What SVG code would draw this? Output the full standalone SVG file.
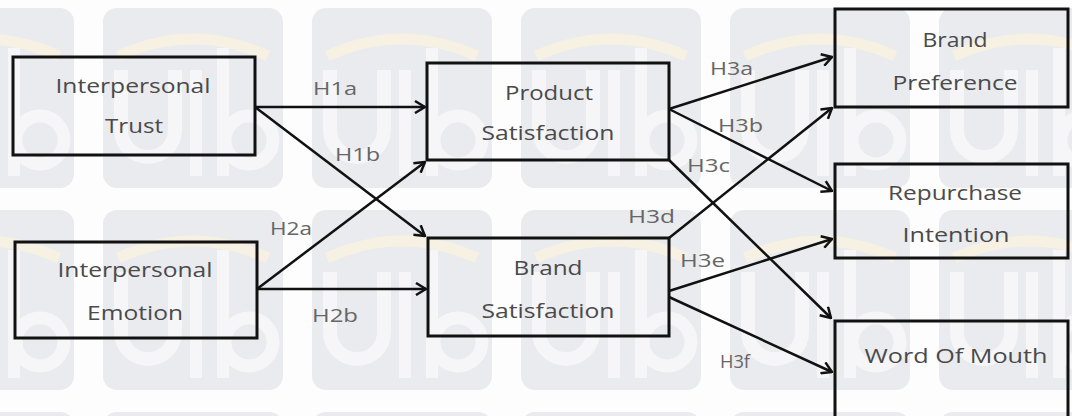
<svg xmlns="http://www.w3.org/2000/svg" width="1072" height="416" viewBox="0 0 1072 416">
  <defs>
    <pattern id="wm" patternUnits="userSpaceOnUse" x="103" y="8" width="209" height="202">
      <rect x="0" y="0" width="180" height="180" rx="14" fill="#eaebef"/>
      <path d="M15 48 Q90 14 165 48" fill="none" stroke="#f6f1e2" stroke-width="11"/>
      <path d="M18 62 V122 A27 27 0 0 0 72 122 V62" fill="none" stroke="#f6f6f8" stroke-width="14"/>
      <line x1="93" y1="62" x2="93" y2="168" stroke="#f6f6f8" stroke-width="12"/>
      <line x1="120" y1="40" x2="120" y2="168" stroke="#f6f6f8" stroke-width="12"/>
      <circle cx="146" cy="132" r="24" fill="none" stroke="#f6f6f8" stroke-width="13"/>
    </pattern>
    <marker id="arr" viewBox="0 0 12 14" refX="11" refY="7" markerWidth="12" markerHeight="14" markerUnits="userSpaceOnUse" orient="auto">
      <path d="M1,1 L11,7 L1,13" fill="none" stroke="#111" stroke-width="2.5"/>
    </marker>
    <style>
      .box { fill: none; stroke: #111; stroke-width: 3; }
      .t { font-family: "Open Sans", "Liberation Sans", sans-serif; font-size: 20px; fill: #4a4a4a; text-anchor: middle; }
      .lbl { font-family: "Open Sans", "Liberation Sans", sans-serif; font-size: 18px; fill: #666; }
      .edge { fill: none; stroke: #111; stroke-width: 2.5; marker-end: url(#arr); }
    </style>
  </defs>

  <rect x="0" y="0" width="1072" height="416" fill="#fdfdfd"/>
  <rect x="0" y="0" width="1072" height="416" fill="url(#wm)"/>

  <g id="connectors">
    <path class="edge" d="M255,107 L425,107"/>
    <path class="edge" d="M255,107 L425,236"/>
    <path class="edge" d="M257,289 L425,162"/>
    <path class="edge" d="M257,289 L426,289"/>
    <path class="edge" d="M669,109 L832,57"/>
    <path class="edge" d="M669,109 L832,191"/>
    <path class="edge" d="M669,160 L831,318"/>
    <path class="edge" d="M669,238 L832,108"/>
    <path class="edge" d="M669,291 L832,239"/>
    <path class="edge" d="M669,297 L832,372"/>
    <text class="lbl" x="313" y="95" textLength="44" lengthAdjust="spacingAndGlyphs">H1a</text>
    <text class="lbl" x="335" y="161" textLength="45" lengthAdjust="spacingAndGlyphs">H1b</text>
    <text class="lbl" x="270" y="235" textLength="42" lengthAdjust="spacingAndGlyphs">H2a</text>
    <text class="lbl" x="312" y="322" textLength="46" lengthAdjust="spacingAndGlyphs">H2b</text>
    <text class="lbl" x="710" y="75" textLength="43" lengthAdjust="spacingAndGlyphs">H3a</text>
    <text class="lbl" x="718" y="132" textLength="45" lengthAdjust="spacingAndGlyphs">H3b</text>
    <text class="lbl" x="687" y="172" textLength="43" lengthAdjust="spacingAndGlyphs">H3c</text>
    <text class="lbl" x="628" y="223" textLength="47" lengthAdjust="spacingAndGlyphs">H3d</text>
    <text class="lbl" x="680" y="267" textLength="45" lengthAdjust="spacingAndGlyphs">H3e</text>
    <text class="lbl" x="720" y="368" textLength="30" lengthAdjust="spacingAndGlyphs">H3f</text>
  </g>

  <g id="interpersonal-trust">
    <rect class="box" x="13" y="57" width="242" height="98"/>
    <text class="t" x="133" y="93" textLength="155" lengthAdjust="spacingAndGlyphs">Interpersonal</text>
    <text class="t" x="134" y="133" textLength="58" lengthAdjust="spacingAndGlyphs">Trust</text>
  </g>
  <g id="interpersonal-emotion">
    <rect class="box" x="15" y="242" width="242" height="96"/>
    <text class="t" x="135" y="277" textLength="155" lengthAdjust="spacingAndGlyphs">Interpersonal</text>
    <text class="t" x="135" y="320" textLength="96" lengthAdjust="spacingAndGlyphs">Emotion</text>
  </g>
  <g id="product-satisfaction">
    <rect class="box" x="427" y="63" width="242" height="97"/>
    <text class="t" x="549" y="100" textLength="88" lengthAdjust="spacingAndGlyphs">Product</text>
    <text class="t" x="548" y="140" textLength="133" lengthAdjust="spacingAndGlyphs">Satisfaction</text>
  </g>
  <g id="brand-satisfaction">
    <rect class="box" x="428" y="238" width="241" height="98"/>
    <text class="t" x="548" y="275" textLength="69" lengthAdjust="spacingAndGlyphs">Brand</text>
    <text class="t" x="548" y="318" textLength="133" lengthAdjust="spacingAndGlyphs">Satisfaction</text>
  </g>
  <g id="brand-preference">
    <rect class="box" x="835" y="9" width="233" height="98"/>
    <text class="t" x="955" y="47" textLength="65" lengthAdjust="spacingAndGlyphs">Brand</text>
    <text class="t" x="955" y="90" textLength="125" lengthAdjust="spacingAndGlyphs">Preference</text>
  </g>
  <g id="repurchase-intention">
    <rect class="box" x="835" y="164" width="233" height="94"/>
    <text class="t" x="955" y="200" textLength="134" lengthAdjust="spacingAndGlyphs">Repurchase</text>
    <text class="t" x="956" y="242" textLength="107" lengthAdjust="spacingAndGlyphs">Intention</text>
  </g>
  <g id="word-of-mouth">
    <rect class="box" x="835" y="321" width="233" height="100"/>
    <text class="t" x="956" y="363" textLength="183" lengthAdjust="spacingAndGlyphs">Word Of Mouth</text>
  </g>
</svg>
